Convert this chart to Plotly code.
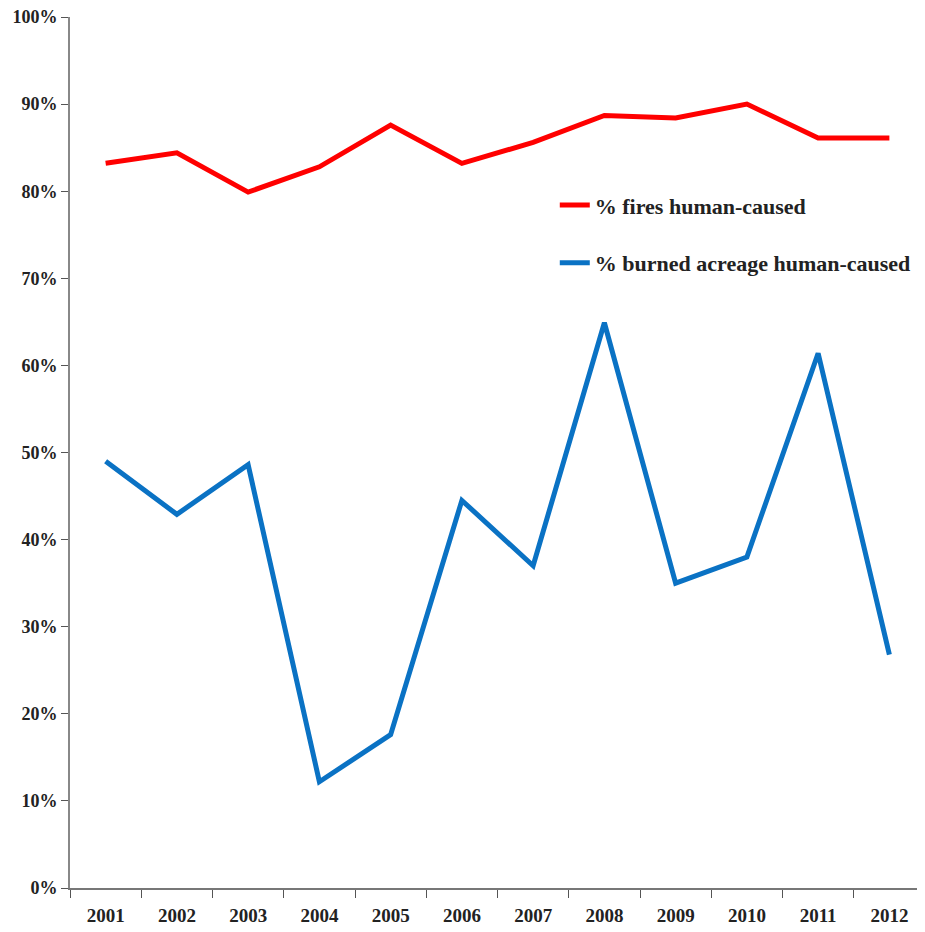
import plotly.graph_objects as go

years = ["2001", "2002", "2003", "2004", "2005", "2006", "2007", "2008", "2009", "2010", "2011", "2012"]
fires_human = [83.2, 84.4, 79.9, 82.8, 87.6, 83.2, 85.6, 88.7, 88.4, 90.0, 86.1, 86.1]
acreage_human = [49.0, 42.9, 48.6, 12.2, 17.6, 44.5, 37.0, 64.9, 35.0, 38.0, 61.4, 26.8]
y_ticks = [0, 10, 20, 30, 40, 50, 60, 70, 80, 90, 100]

font_family = "Liberation Serif, DejaVu Serif, serif"

fig = go.Figure()
fig.add_trace(go.Scatter(x=years, y=fires_human, mode="lines", name="% fires human-caused",
                         line=dict(color="#ff0000", width=5), legendgroup="a"))
fig.add_trace(go.Scatter(x=years, y=acreage_human, mode="lines", name="% burned acreage human-caused",
                         line=dict(color="#0a72c4", width=5), legendgroup="b"))

fig.update_layout(
    width=917, height=924,
    margin=dict(l=62, r=0, t=9, b=44, autoexpand=False),
    paper_bgcolor="white", plot_bgcolor="white",
    font=dict(family=font_family, size=18, color="#222222"),
    showlegend=True,
    legend=dict(x=0.567, y=0.808, xanchor="left", yanchor="top",
                font=dict(family=font_family, size=22, color="#222222", weight="bold"),
                tracegroupgap=26, bgcolor="rgba(0,0,0,0)", itemwidth=30),
    xaxis=dict(type="category", range=[-0.5, 11.5], showgrid=False,
               showline=True, linecolor="#777777", linewidth=2,
               ticks="outside", tickson="boundaries", ticklen=8, tickcolor="#555555",
               tickfont=dict(family=font_family, size=19, color="#222222", weight="bold"),
               ticklabelstandoff=9, automargin=False),
    yaxis=dict(range=[0, 100], tickvals=y_ticks, ticktext=[f"{v}%" for v in y_ticks],
               showgrid=False, zeroline=False, showline=True, linecolor="#888888", linewidth=2,
               ticks="outside", ticklen=7, tickcolor="#555555", automargin=False,
               ticklabeloverflow="allow",
               tickfont=dict(family=font_family, size=18, color="#222222", weight="bold")),
)

fig.write_html("out.html")
